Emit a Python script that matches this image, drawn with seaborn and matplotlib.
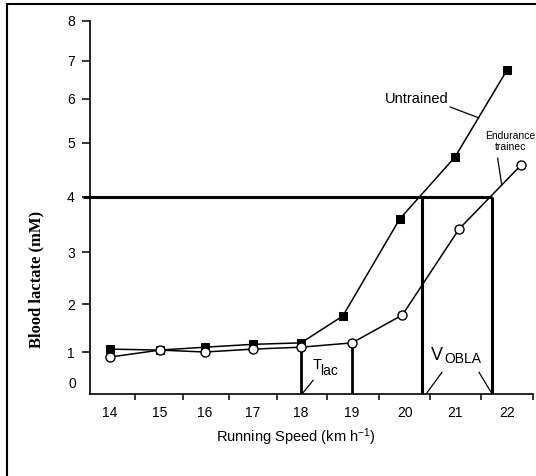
import numpy as np
import pandas as pd
import matplotlib
matplotlib.use("Agg")
import matplotlib.pyplot as plt
import seaborn as sns
from matplotlib.lines import Line2D

# ---------------- data ----------------
speed_untrained = [14, 15, 16, 17, 18, 18.82, 19.9, 21, 22]
lactate_untrained = [1.06, 1.04, 1.10, 1.16, 1.19, 1.75, 3.6, 4.74, 6.76]
speed_trained = [14, 15, 16, 17, 18, 19, 19.95, 21.08, 22.27]
lactate_trained = [0.88, 1.04, 1.00, 1.06, 1.10, 1.19, 1.77, 3.42, 4.59]

obla_level = 4.0
v_obla = [20.34, 21.71]
t_lac = [18, 19]
t_lac_top = [1.10, 1.19]

x_ticks = [14, 15, 16, 17, 18, 19, 20, 21, 22]
x_minor = [14.5, 15.5, 16.5, 17.5, 18.5, 19.5, 20.5, 21.5, 22.5]
y_ticks = [0, 1, 2, 3, 4, 5, 6, 7, 8]

# hand-drawn axis calibration (uneven spacing of the original figure)
x_cal = [110, 160, 205, 253, 301, 352, 405, 455, 507]
y_cal = [0, 42, 90, 142, 197, 251, 295, 333, 373]


def make_scale(v, p):
    v = np.asarray(v, float)
    p = np.asarray(p, float)

    def fwd(x):
        x = np.asarray(x, float)
        y = np.interp(x, v, p)
        y = np.where(x < v[0], p[0] + (x - v[0]) * (p[1] - p[0]) / (v[1] - v[0]), y)
        y = np.where(x > v[-1], p[-1] + (x - v[-1]) * (p[-1] - p[-2]) / (v[-1] - v[-2]), y)
        return y

    def inv(y):
        y = np.asarray(y, float)
        x = np.interp(y, p, v)
        x = np.where(y < p[0], v[0] + (y - p[0]) * (v[1] - v[0]) / (p[1] - p[0]), x)
        x = np.where(y > p[-1], v[-1] + (y - p[-1]) * (v[-1] - v[-2]) / (p[-1] - p[-2]), x)
        return x

    return fwd, inv


sns.set_theme(style="white")
plt.rcParams['font.family'] = ['Liberation Sans', 'DejaVu Sans']
plt.rcParams['mathtext.fontset'] = 'custom'
plt.rcParams['mathtext.rm'] = 'Liberation Sans'
plt.rcParams['mathtext.it'] = 'Liberation Sans'

fig = plt.figure(figsize=(5.36, 4.76), dpi=100)
fig.patch.set_facecolor('white')
ax = fig.add_axes([90 / 536, 1 - 394 / 476, (533 - 90) / 536, (394 - 21) / 476])

ax.set_xscale('function', functions=make_scale(x_ticks, x_cal))
ax.set_yscale('function', functions=make_scale(y_ticks, y_cal))

df_u = pd.DataFrame({'speed': speed_untrained, 'lactate': lactate_untrained})
df_t = pd.DataFrame({'speed': speed_trained, 'lactate': lactate_trained})

# reference lines
ax.plot([13.46, v_obla[1]], [obla_level, obla_level], color='black', lw=2.2,
        clip_on=False, zorder=2, solid_capstyle='butt')
for xv in v_obla:
    ax.plot([xv, xv], [0, obla_level], color='black', lw=2.2, zorder=2, solid_capstyle='butt')
for xv, top in zip(t_lac, t_lac_top):
    ax.plot([xv, xv], [0, top], color='black', lw=2.0, zorder=2, solid_capstyle='butt')

sns.lineplot(data=df_u, x='speed', y='lactate', ax=ax, color='black', lw=1.1,
             marker='s', markersize=6, markerfacecolor='black', markeredgecolor='black',
             sort=False, zorder=3)
sns.lineplot(data=df_t, x='speed', y='lactate', ax=ax, color='black', lw=1.1,
             marker='o', markersize=6.5, markerfacecolor='white', markeredgecolor='black',
             markeredgewidth=1.0, sort=False, zorder=4)

ax.set_xlim(13.6, 22.5)
ax.set_ylim(0, 8)

# spines
for s in ['top', 'right']:
    ax.spines[s].set_visible(False)
for s in ['left', 'bottom']:
    ax.spines[s].set_color('black')
    ax.spines[s].set_linewidth(1.2)

# y ticks
ax.set_yticks(y_ticks[1:])
ax.set_yticklabels([str(t) for t in y_ticks[1:]])
ax.tick_params(axis='y', which='major', direction='out', length=6, width=1.1,
               color='black', labelsize=10, pad=5, left=True, labelcolor='black')
ax.annotate(str(y_ticks[0]), xy=(0, 0), xycoords='axes fraction', xytext=(-10, 7.5),
            textcoords='offset points', ha='right', va='center', fontsize=10, color='black')

# x ticks: labels at integers, tick marks between
ax.set_xticks(x_ticks)
ax.set_xticklabels([str(t) for t in x_ticks])
ax.set_xticks(x_minor, minor=True)
ax.tick_params(axis='x', which='major', length=0, labelsize=10, pad=8.5, labelcolor='black')
ax.tick_params(axis='x', which='minor', direction='out', length=4.5, width=1.1,
               color='black', bottom=True)

ax.set_xlabel(r'Running Speed (km h$^{-1}$)', fontsize=10.5, color='black', va='center')
ax.xaxis.set_label_coords(0.465, -0.115)
ax.set_ylabel('Blood lactate (mM)', fontsize=12, fontweight='bold',
              family=['Liberation Serif'], color='black', va='center')
ax.yaxis.set_label_coords(-0.12, 0.308)

# annotations
ax.text(20.24, 6.0, 'Untrained', fontsize=10.5, ha='center', va='center', color='black')
ax.plot([20.9, 21.46], [5.82, 5.57], color='black', lw=0.9)
ax.text(22.06, 5.03, 'Endurance\ntrainec', fontsize=7.5, ha='center', va='center',
        color='black', linespacing=1.15, clip_on=False)
ax.plot([21.82, 21.9], [4.72, 4.22], color='black', lw=0.9)

ax.text(18.22, 0.52, 'T', fontsize=10.5, ha='left', va='bottom', color='black')
ax.text(18.38, 0.38, 'lac', fontsize=10, ha='left', va='bottom', color='black')
ax.plot([18.24, 18.04], [0.33, 0.03], color='black', lw=0.9)

ax.text(20.52, 0.72, 'V', fontsize=13, ha='left', va='bottom', color='black')
ax.text(20.78, 0.67, 'OBLA', fontsize=10, ha='left', va='bottom', color='black')
ax.plot([20.74, 20.44], [0.52, 0.03], color='black', lw=0.9)
ax.plot([21.46, 21.70], [0.52, 0.03], color='black', lw=0.9)

# outer frame of the original figure
fig.add_artist(Line2D([7 / 536, 7 / 536], [0, 1 - 4 / 476], transform=fig.transFigure,
                      color='black', lw=1.5))
fig.add_artist(Line2D([7 / 536, 1], [1 - 4 / 476, 1 - 4 / 476], transform=fig.transFigure,
                      color='black', lw=1.5))

fig.savefig('out.png', dpi=100, facecolor='white')
